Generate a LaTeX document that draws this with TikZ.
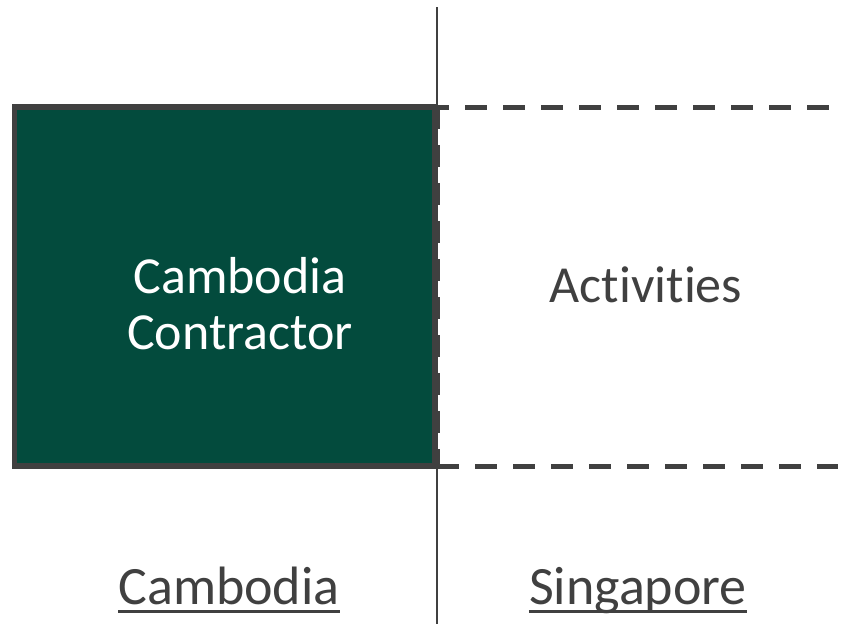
\documentclass[tikz,border=0pt]{standalone}
\usepackage{fontspec}
\setmainfont{Carlito}[Ligatures={NoCommon}]
\definecolor{cambgreen}{HTML}{034B3D}
\definecolor{slate}{HTML}{404040}
\begin{document}
\begin{tikzpicture}[x=1pt,y=-1pt,
    bigtext/.style={inner sep=0,font=\fontsize{52}{56}\selectfont,align=center},
    landtext/.style={inner sep=0,font=\fontsize{54}{60}\selectfont,slate,anchor=base},
    dashline/.style={slate,line width=5pt,dash pattern=on 22pt off 16pt}]
  \useasboundingbox (0,0) rectangle (841,624);
  % border between the two countries
  \coordinate (bordertop) at (437,7);
  \coordinate (borderbot) at (437,624);
  \draw [slate,line width=2pt] (bordertop) -- (borderbot);
  % dashed area, Singapore side
  \coordinate (actnw) at (437,107);
  \coordinate (actsw) at (437,466);
  \coordinate (actne) at (838,107);
  \coordinate (actse) at (838,466);
  \draw [dashline,dash phase=10pt] (actnw) -- (actne);
  \draw [dashline] (actsw) -- (actse);
  \draw [dashline] (actnw) -- (actsw);
  % contractor box
  \node (ccbox) [draw=slate,fill=cambgreen,line width=5.5pt,inner sep=0,
       minimum width=420pt,minimum height=359pt] at (224.5,286.5) {};
  \node (cclbl) [bigtext,white] at (240,304) {Cambodia\\Contractor};
  \node (actlbl) [bigtext,slate,anchor=base] at (646,302) {Activities};
  % country names
  \node (camlbl) [landtext] at (229,604) {Cambodia};
  \node (sgplbl) [landtext] at (638,604) {Singapore};
  \draw [slate,line width=3pt] ([yshift=-7.5pt]camlbl.base west) -- ([yshift=-7.5pt]camlbl.base east);
  \draw [slate,line width=3pt] ([yshift=-7.5pt]sgplbl.base west) -- ([yshift=-7.5pt]sgplbl.base east);
\end{tikzpicture}
\end{document}
